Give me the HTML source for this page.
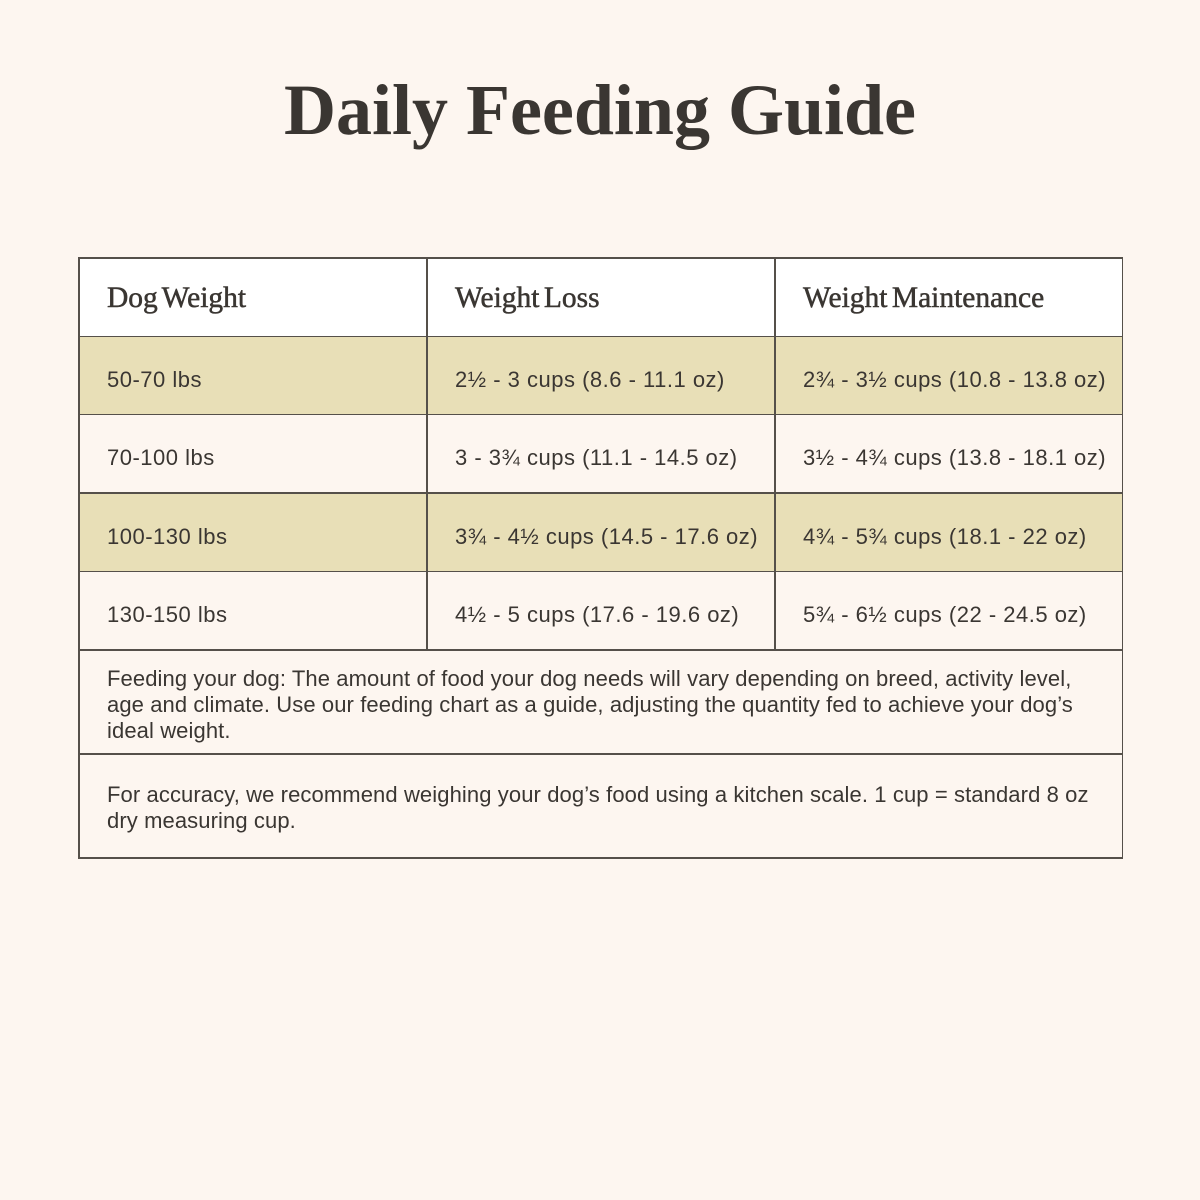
<!DOCTYPE html>
<html>
<head>
<meta charset="utf-8">
<style>
  html, body { margin:0; padding:0; }
  body { width:1200px; height:1200px; background:#fdf6f0; position:relative; overflow:hidden; color:#3a3632; }
  .abs { position:absolute; }
  .title { left:0; width:1200px; top:74px; text-align:center; font-family:"Liberation Serif", serif; font-weight:bold; font-size:72px; line-height:72px; white-space:nowrap; color:#3a3632; }
  .hdr { font-family:"Liberation Serif", serif; font-size:29.5px; line-height:29.5px; white-space:nowrap; word-spacing:-3px; top:284px; color:#3a3632; -webkit-text-stroke:0.5px #3a3632; }
  .cell { font-family:"Liberation Sans", Arial, sans-serif; font-size:22px; line-height:22px; letter-spacing:0.5px; white-space:nowrap; color:#3a3632; }
  .note { font-family:"Liberation Sans", Arial, sans-serif; font-size:22px; line-height:26px; letter-spacing:0.1px; white-space:nowrap; color:#3a3632; left:107px; }
  .hl { background:#55504a; }
  .vl { background:#55504a; width:1.5px; }
  .hline { height:1.5px; }
</style>
</head>
<body>
  <div class="abs title">Daily Feeding Guide</div>

  <!-- backgrounds -->
  <div class="abs" style="left:78px;top:257px;width:1044px;height:79px;background:#ffffff;"></div>
  <div class="abs" style="left:78px;top:336px;width:1044px;height:78px;background:#e8dfb7;"></div>
  <div class="abs" style="left:78px;top:493px;width:1044px;height:78px;background:#e8dfb7;"></div>

  <!-- horizontal lines -->
  <div class="abs hl hline" style="left:78px;top:257px;width:1045px;"></div>
  <div class="abs hl hline" style="left:78px;top:335.5px;width:1045px;"></div>
  <div class="abs hl hline" style="left:78px;top:413.5px;width:1045px;"></div>
  <div class="abs hl hline" style="left:78px;top:492px;width:1045px;"></div>
  <div class="abs hl hline" style="left:78px;top:570.5px;width:1045px;"></div>
  <div class="abs hl hline" style="left:78px;top:649px;width:1045px;"></div>
  <div class="abs hl hline" style="left:78px;top:753px;width:1045px;"></div>
  <div class="abs hl hline" style="left:78px;top:857px;width:1045px;"></div>

  <!-- vertical lines -->
  <div class="abs vl" style="left:78px;top:257px;height:601.5px;"></div>
  <div class="abs vl" style="left:1121.5px;top:257px;height:601.5px;"></div>
  <div class="abs vl" style="left:426px;top:257px;height:393px;"></div>
  <div class="abs vl" style="left:774px;top:257px;height:393px;"></div>

  <!-- header -->
  <div class="abs hdr" style="left:107px;">Dog Weight</div>
  <div class="abs hdr" style="left:455px;">Weight Loss</div>
  <div class="abs hdr" style="left:803px;">Weight Maintenance</div>

  <!-- rows -->
  <div class="abs cell" style="left:107px;top:368.5px;">50-70 lbs</div>
  <div class="abs cell" style="left:455px;top:368.5px;">2½ - 3 cups (8.6 - 11.1 oz)</div>
  <div class="abs cell" style="left:803px;top:368.5px;">2¾ - 3½ cups (10.8 - 13.8 oz)</div>

  <div class="abs cell" style="left:107px;top:446.5px;">70-100 lbs</div>
  <div class="abs cell" style="left:455px;top:446.5px;">3 - 3¾ cups (11.1 - 14.5 oz)</div>
  <div class="abs cell" style="left:803px;top:446.5px;">3½ - 4¾ cups (13.8 - 18.1 oz)</div>

  <div class="abs cell" style="left:107px;top:525.5px;">100-130 lbs</div>
  <div class="abs cell" style="left:455px;top:525.5px;">3¾ - 4½ cups (14.5 - 17.6 oz)</div>
  <div class="abs cell" style="left:803px;top:525.5px;">4¾ - 5¾ cups (18.1 - 22 oz)</div>

  <div class="abs cell" style="left:107px;top:603.5px;">130-150 lbs</div>
  <div class="abs cell" style="left:455px;top:603.5px;">4½ - 5 cups (17.6 - 19.6 oz)</div>
  <div class="abs cell" style="left:803px;top:603.5px;">5¾ - 6½ cups (22 - 24.5 oz)</div>

  <!-- notes -->
  <div class="abs note" style="top:666px;">Feeding your dog: The amount of food your dog needs will vary depending on breed, activity level,<br>age and climate. Use our feeding chart as a guide, adjusting the quantity fed to achieve your dog’s<br>ideal weight.</div>
  <div class="abs note" style="top:782px;">For accuracy, we recommend weighing your dog’s food using a kitchen scale. 1 cup = standard 8 oz<br>dry measuring cup.</div>
</body>
</html>
